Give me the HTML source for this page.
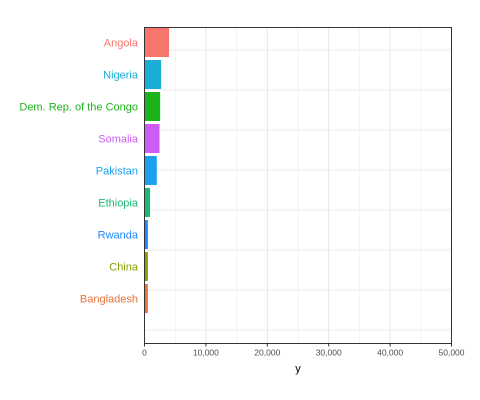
<!DOCTYPE html>
<html><head><meta charset="utf-8"><style>body{margin:0;background:#fff}svg{display:block;font-family:"Liberation Sans",sans-serif}</style></head>
<body>
<svg id="chart" width="480" height="400"></svg>
<script>
const categories=["Angola","Nigeria","Dem. Rep. of the Congo","Somalia","Pakistan","Ethiopia","Rwanda","China","Bangladesh"];
const values=[4000,2700,2550,2450,2000,900,550,550,550];
const colors=["#F8766D","#1AADD6","#1DB31D","#CC5CF5","#1AA0EE","#1DB876","#1E88FF","#8AA000","#E8743A"];
const xTicks=[0,10000,20000,30000,40000,50000];
const xTickLabels=["0","10,000","20,000","30,000","40,000","50,000"];
const ns="http://www.w3.org/2000/svg";
const svg=document.getElementById('chart');
const L=144.5,R=451.5,T=27.5,B=343.5,xMax=50000;
const x=v=>L+v/xMax*(R-L);
const slot=32,y0=42.5;
const y=i=>y0+i*slot;
function el(t,a,p){const e=document.createElementNS(ns,t);for(const k in a)e.setAttribute(k,a[k]);(p||svg).appendChild(e);return e;}
// gridlines
for(let v=0;v<=xMax;v+=5000){
const g=el('line',{x1:x(v),x2:x(v),y1:T,y2:B,stroke:v%10000?'#f3f3f3':'#e6e6e6','stroke-width':1});


}
for(let gy=50;gy<=330;gy+=40){
const g=el('line',{x1:L,x2:R,y1:gy,y2:gy,stroke:'#ebebeb','stroke-width':1});


}
categories.forEach((c,i)=>{
const r=el('rect',{x:x(0),y:y(i)-14.5,width:x(values[i])-x(0),height:29,fill:colors[i]});


const t=el('text',{x:138,y:y(i)+4,'text-anchor':'end','font-size':11,fill:colors[i]});
t.textContent=c;


});
const fr=el('rect',{x:L,y:T,width:R-L,height:B-T,fill:'none',stroke:'#333','stroke-width':1});


xTicks.forEach((v,i)=>{
const tk=el('line',{x1:x(v),x2:x(v),y1:B,y2:B+3,stroke:'#333'});


const t=el('text',{x:x(v),y:B+12,'text-anchor':'middle','font-size':8.5,fill:'#4d4d4d'});
t.textContent=xTickLabels[i];


});
const xt=el('text',{x:(L+R)/2,y:372,'text-anchor':'middle','font-size':11,fill:'#000'});
xt.textContent='y';


</script>
</body></html>
